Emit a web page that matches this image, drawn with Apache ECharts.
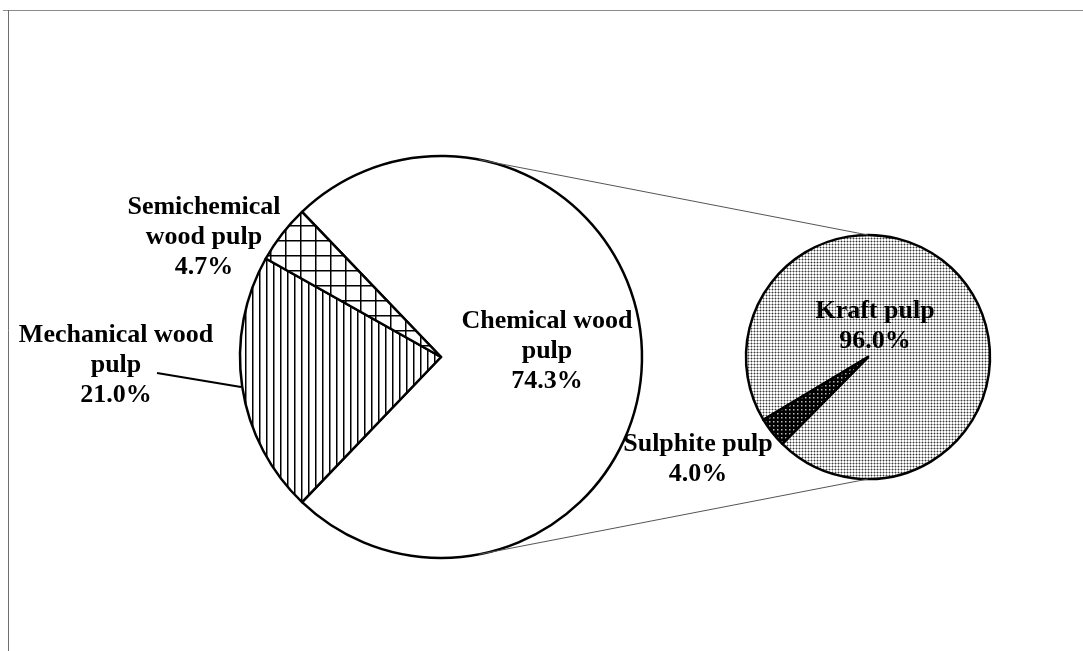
<!DOCTYPE html>
<html>
<head>
<meta charset="utf-8">
<script src="https://cdn.jsdelivr.net/npm/echarts@6/dist/echarts.min.js"></script>
<style>
  html, body { margin: 0; padding: 0; background: #fff; }
  #chart { width: 1083px; height: 651px; }
</style>
</head>
<body>
<div id="chart"></div>
<script>
// data
const mainNames = ['Chemical wood\npulp', 'Mechanical wood\npulp', 'Semichemical\nwood pulp'];
const mainValues = [74.3, 21.0, 4.7];
const subNames = ['Kraft pulp', 'Sulphite pulp'];
const subValues = [96.0, 4.0];

// layout
const MAIN_CENTER = [441, 357], MAIN_R = 201;
const SUB_CENTER = [868, 357], SUB_R = 122;
const FONT = '"Liberation Serif", "Times New Roman", serif';
const labelPos = [
    [[547, 351], [116, 365], [204, 237]],
    [[875, 326], [698, 459]]
];

function makeTile(w, h, draw) {
    const c = document.createElement('canvas');
    c.width = w; c.height = h;
    const ctx = c.getContext('2d');
    draw(ctx);
    return { image: c, repeat: 'repeat' };
}

const vertLines = makeTile(7, 7, ctx => {
    ctx.fillStyle = '#fff'; ctx.fillRect(0, 0, 7, 7);
    ctx.fillStyle = '#000'; ctx.fillRect(0, 0, 1.5, 7);
});
const grid = makeTile(15, 15, ctx => {
    ctx.fillStyle = '#fff'; ctx.fillRect(0, 0, 15, 15);
    ctx.fillStyle = '#000';
    ctx.fillRect(0, 0, 1.5, 15);
    ctx.fillRect(0, 0, 15, 1.5);
});
const lightDots = makeTile(3, 3, ctx => {
    ctx.fillStyle = '#fff'; ctx.fillRect(0, 0, 3, 3);
    ctx.fillStyle = '#b0b0b0';
    ctx.fillRect(0, 1, 3, 1); ctx.fillRect(1, 0, 1, 3);
    ctx.fillStyle = '#3c3c3c'; ctx.fillRect(1, 1, 1, 1);
});
const darkDots = makeTile(4, 4, ctx => {
    ctx.fillStyle = '#000'; ctx.fillRect(0, 0, 4, 4);
    ctx.fillStyle = '#bbb'; ctx.fillRect(1, 1, 1.5, 1.5);
});

const mainFills = ['#fff', vertLines, grid];
const subFills = [lightDots, darkDots];

// connector lines: tangent from top/bottom of the small pie to the big circle
function tangentPoint(px, py, sign) {
    const dx = px - MAIN_CENTER[0], dy = MAIN_CENTER[1] - py;
    const d = Math.sqrt(dx * dx + dy * dy);
    const a = Math.atan2(dy, dx) + sign * Math.acos(MAIN_R / d);
    return [MAIN_CENTER[0] + MAIN_R * Math.cos(a), MAIN_CENTER[1] - MAIN_R * Math.sin(a)];
}
const topEnd = [SUB_CENTER[0], SUB_CENTER[1] - SUB_R];
const botEnd = [SUB_CENTER[0], SUB_CENTER[1] + SUB_R];
const topStart = tangentPoint(topEnd[0], topEnd[1], 1);
const botStart = tangentPoint(botEnd[0], botEnd[1], -1);

const labelStyle = {
    show: true,
    position: 'outside',
    color: '#000',
    fontFamily: FONT,
    fontWeight: 'bold',
    fontSize: 26,
    lineHeight: 30,
    align: 'center',
    formatter: p => p.name + '\n' + p.value.toFixed(1) + '%'
};

const chart = echarts.init(document.getElementById('chart'));
chart.setOption({
    animation: false,
    backgroundColor: '#fff',
    graphic: [
        { type: 'line', shape: { x1: 3, y1: 10.5, x2: 1083, y2: 10.5 }, style: { stroke: '#8c8c8c', lineWidth: 1 } },
        { type: 'line', shape: { x1: 8.5, y1: 10, x2: 8.5, y2: 651 }, style: { stroke: '#6e6e6e', lineWidth: 1 } },
        { type: 'line', z: 10, shape: { x1: topStart[0], y1: topStart[1], x2: topEnd[0], y2: topEnd[1] }, style: { stroke: '#555', lineWidth: 1 } },
        { type: 'line', z: 10, shape: { x1: botStart[0], y1: botStart[1], x2: botEnd[0], y2: botEnd[1] }, style: { stroke: '#555', lineWidth: 1 } }
    ],
    series: [
        {
            type: 'pie',
            center: MAIN_CENTER,
            radius: MAIN_R,
            startAngle: 133.74,
            clockwise: true,
            silent: true,
            avoidLabelOverlap: false,
            itemStyle: { borderColor: '#000', borderWidth: 2.5 },
            label: labelStyle,
            labelLine: { show: false, lineStyle: { color: '#000', width: 2 } },
            labelLayout: p => {
                const pos = labelPos[0][p.dataIndex];
                const res = { x: pos[0], y: pos[1], align: 'center', verticalAlign: 'middle' };
                if (p.dataIndex === 1) {
                    res.labelLinePoints = [[241, 387], [199, 380], [157, 373]];
                }
                return res;
            },
            data: mainNames.map((n, i) => ({
                name: n,
                value: mainValues[i],
                itemStyle: { color: mainFills[i] },
                labelLine: { show: i === 1 }
            }))
        },
        {
            type: 'pie',
            center: SUB_CENTER,
            radius: SUB_R,
            startAngle: 211,
            clockwise: true,
            silent: true,
            avoidLabelOverlap: false,
            itemStyle: { borderColor: '#000', borderWidth: 2.5 },
            label: labelStyle,
            labelLine: { show: false },
            labelLayout: p => {
                const pos = labelPos[1][p.dataIndex];
                return { x: pos[0], y: pos[1], align: 'center', verticalAlign: 'middle' };
            },
            data: subNames.map((n, i) => ({
                name: n,
                value: subValues[i],
                itemStyle: { color: subFills[i] }
            }))
        }
    ]
});
</script>
</body>
</html>
